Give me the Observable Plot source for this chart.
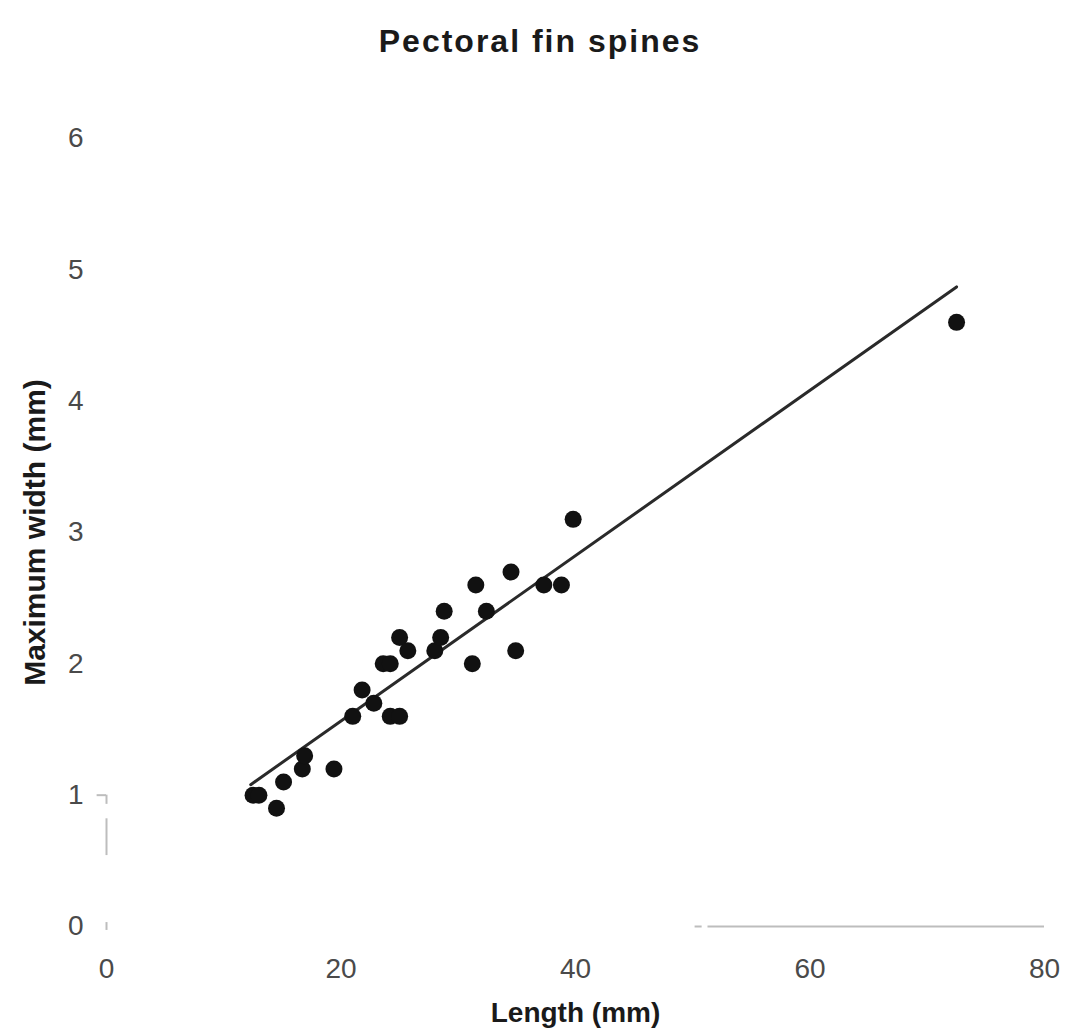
<!DOCTYPE html>
<html>
<head>
<meta charset="utf-8">
<script src="https://cdn.jsdelivr.net/npm/d3@7"></script>
<script src="https://cdn.jsdelivr.net/npm/@observablehq/plot@0.6"></script>
<style>
  html, body { margin: 0; padding: 0; background: #fff; }
  #title {
    height: 80px; box-sizing: border-box; padding-top: 25px; padding-left: 12px;
    font: bold 32px/32px "Liberation Sans", Arial, sans-serif; letter-spacing: 2px;
    text-align: center; color: #1a1a1a;
  }
  #chart svg { display: block; }
</style>
</head>
<body>
<div id="title">Pectoral fin spines</div>
<div id="chart"></div>
<script>
// Data
const lengthMm = [12.5, 13.0, 14.5, 15.1, 16.7, 16.9, 19.4, 21.0, 21.8, 22.8, 23.6, 24.2, 24.2, 25.0, 25.0, 25.7, 28.0, 28.5, 28.8, 31.2, 31.5, 32.4, 34.5, 34.9, 37.3, 38.8, 39.8, 72.5];
const widthMm  = [1.0, 1.0, 0.9, 1.1, 1.2, 1.3, 1.2, 1.6, 1.8, 1.7, 2.0, 2.0, 1.6, 1.6, 2.2, 2.1, 2.1, 2.2, 2.4, 2.0, 2.6, 2.4, 2.7, 2.1, 2.6, 2.6, 3.1, 4.6];
// Fitted regression line end points
const fitLength = [12.3, 72.5];
const fitWidth  = [1.08, 4.87];
// Ticks
const xTicks = [0, 20, 40, 60, 80];
const yTicks = [0, 1, 2, 3, 4, 5, 6];
// Faint remnants of the axis lines in the scanned figure (data units)
const yAxisPieces = [{y1: 1, y2: 0.93}, {y1: 0.82, y2: 0.54}];
const xAxisPieces = [{x1: 50.2, x2: 50.8}, {x1: 51.3, x2: 80}];

const points = lengthMm.map((l, i) => ({length: l, width: widthMm[i]}));
const fit = fitLength.map((l, i) => ({length: l, width: fitWidth[i]}));

const chart = Plot.plot({
  width: 1068,
  height: 951,
  marginLeft: 106,
  marginRight: 24,
  marginTop: 58,
  marginBottom: 105,
  style: {fontFamily: "'Liberation Sans', Arial, sans-serif", fontSize: "28px", background: "#fff"},
  x: {domain: [0, 80]},
  y: {domain: [0, 6]},
  marks: [
    Plot.axisX({ticks: xTicks, tickFormat: d3.format("d"), tickSize: 0, tickPadding: 32, color: "#4a4a4a", label: null}),
    Plot.axisY({ticks: yTicks, tickFormat: d3.format("d"), tickSize: 0, tickPadding: 23, color: "#4a4a4a", label: null}),
    Plot.ruleX(yAxisPieces, {x: () => 0, y1: "y1", y2: "y2", stroke: "#bdbdbd", strokeWidth: 2}),
    Plot.ruleY([1], {x1: -0.8, x2: 0, stroke: "#bdbdbd", strokeWidth: 2}),
    Plot.ruleX([0], {y1: -0.03, y2: 0.03, stroke: "#bdbdbd", strokeWidth: 2}),
    Plot.ruleY(xAxisPieces, {y: () => 0, x1: "x1", x2: "x2", stroke: "#bdbdbd", strokeWidth: 2}),
    Plot.line(fit, {x: "length", y: "width", stroke: "#2a2a2a", strokeWidth: 3}),
    Plot.dot(points, {x: "length", y: "width", r: 8.5, fill: "#111", stroke: "none"}),
    Plot.text(["Length (mm)"], {frameAnchor: "bottom", dy: 76, lineAnchor: "top", textAnchor: "middle", fontWeight: "bold", fontSize: 28, fill: "#1a1a1a"}),
    Plot.text(["Maximum width (mm)"], {frameAnchor: "left", dx: -71, rotate: -90, lineAnchor: "middle", textAnchor: "middle", fontWeight: "bold", fontSize: 30, fill: "#1a1a1a"})
  ]
});
document.getElementById("chart").appendChild(chart);
</script>
</body>
</html>
